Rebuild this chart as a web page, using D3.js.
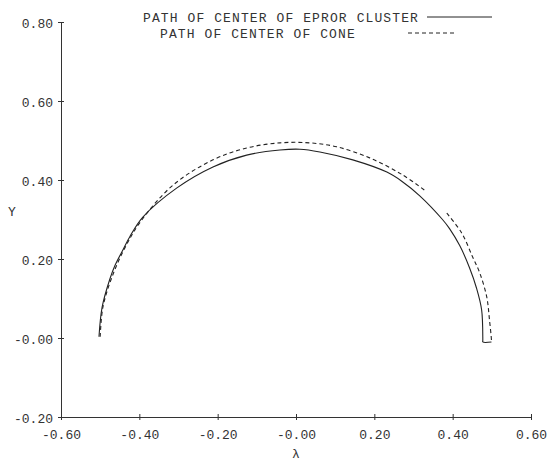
<!DOCTYPE html>
<html>
<head>
<meta charset="utf-8">
<script src="https://cdn.jsdelivr.net/npm/d3@7"></script>
<style>
  body { margin: 0; background: #fff; }
  text { font-family: "Liberation Mono", "DejaVu Sans Mono", monospace; fill: #333; }
</style>
</head>
<body>
<div id="container"></div>
<script>
// chart size
const width = 552;
const height = 462;

// tick values and labels as printed on the plot
const xTicks = [-0.6, -0.4, -0.2, 0, 0.2, 0.4, 0.6];
const xTickLabels = ["-0.60", "-0.40", "-0.20", "-0.00", "0.20", "0.40", "0.60"];
const yTicks = [-0.2, 0, 0.2, 0.4, 0.6, 0.8];
const yTickLabels = ["-0.20", "-0.00", "0.20", "0.40", "0.60", "0.80"];

// path of center of error cluster (solid)
const clusterX = [-0.503, -0.495, -0.475, -0.462, -0.442, -0.424, -0.391, -0.304, -0.212, -0.126, -0.041, 0.010,
    0.061, 0.145, 0.232, 0.270, 0.316, 0.374, 0.392, 0.418, 0.443, 0.461, 0.474, 0.477, 0.477, 0.499];
const clusterY = [0.003, 0.078, 0.150, 0.184, 0.223, 0.257, 0.306, 0.380, 0.433, 0.463, 0.476, 0.478,
    0.471, 0.451, 0.420, 0.397, 0.360, 0.300, 0.277, 0.234, 0.178, 0.126, 0.071, -0.005, -0.010, -0.010];

// path of center of cone (dashed), null marks the pen lift
const coneX = [-0.500, -0.493, -0.470, -0.437, -0.396, -0.314, -0.212, -0.126, -0.041, 0.035,
    0.104, 0.188, 0.272, 0.334, null, 0.385, 0.423, 0.451, 0.469, 0.487, 0.494, 0.499, 0.499];
const coneY = [0.003, 0.078, 0.154, 0.228, 0.296, 0.387, 0.451, 0.481, 0.494, 0.494,
    0.484, 0.456, 0.413, 0.370, null, 0.316, 0.266, 0.205, 0.165, 0.104, 0.046, -0.005, -0.010];

const legendLabels = ["PATH OF CENTER OF EPROR CLUSTER", "PATH OF CENTER OF CONE"];

const svg = d3.select("#container")
    .append("svg")
    .attr("width", width)
    .attr("height", height);

// scales
const x = d3.scaleLinear().domain([-0.6, 0.6]).range([61, 531]);
const y = d3.scaleLinear().domain([-0.2, 0.8]).range([417, 22]);

// x axis
const xAxis = svg.append("g")
    .attr("transform", `translate(0, ${y(-0.2)})`)
    .call(d3.axisBottom(x)
        .tickValues(xTicks)
        .tickSizeInner(3)
        .tickSizeOuter(0)
        .tickPadding(10)
        .tickFormat((d, i) => xTickLabels[i]));
xAxis.select(".domain").attr("stroke", "#333");
xAxis.selectAll(".tick line").attr("y1", -3).attr("stroke", "#333");
xAxis.selectAll(".tick text")
    .attr("fill", "#333")
    .style("font-size", "13px");

// y axis
const yAxis = svg.append("g")
    .attr("transform", `translate(${x(-0.6)}, 0)`)
    .call(d3.axisLeft(y)
        .tickValues(yTicks)
        .tickSizeInner(3)
        .tickSizeOuter(0)
        .tickPadding(5)
        .tickFormat((d, i) => yTickLabels[i]));
yAxis.select(".domain").attr("stroke", "#333");
yAxis.selectAll(".tick line").attr("x1", 3).attr("stroke", "#333");
yAxis.selectAll(".tick text")
    .attr("fill", "#333")
    .attr("dy", "0.45em")
    .style("font-size", "13px");

// axis titles
svg.append("text")
    .attr("x", x(0))
    .attr("y", 458)
    .attr("text-anchor", "middle")
    .style("font-size", "13px")
    .text("λ");

svg.append("text")
    .attr("x", 12)
    .attr("y", 216)
    .attr("text-anchor", "middle")
    .style("font-size", "13px")
    .text("Y");

// curves
const lineGen = d3.line()
    .defined(d => d[0] !== null)
    .x(d => x(d[0]))
    .y(d => y(d[1]))
    .curve(d3.curveCatmullRom);

svg.append("path")
    .datum(clusterX.map((v, i) => [v, clusterY[i]]))
    .attr("fill", "none")
    .attr("stroke", "#222")
    .attr("stroke-width", 1.1)
    .attr("d", lineGen);

svg.append("path")
    .datum(coneX.map((v, i) => [v, coneY[i]]))
    .attr("fill", "none")
    .attr("stroke", "#222")
    .attr("stroke-width", 1.1)
    .attr("stroke-dasharray", "4,3")
    .attr("d", lineGen);

// legend
const legend = svg.append("g");
legend.append("text")
    .attr("x", 143)
    .attr("y", 22)
    .style("font-size", "13px")
    .style("letter-spacing", "1.1px")
    .text(legendLabels[0]);
legend.append("text")
    .attr("x", 160)
    .attr("y", 38)
    .style("font-size", "13px")
    .style("letter-spacing", "1.1px")
    .text(legendLabels[1]);
legend.append("line")
    .attr("x1", 427).attr("x2", 492)
    .attr("y1", 17).attr("y2", 17)
    .attr("stroke", "#222");
legend.append("line")
    .attr("x1", 408).attr("x2", 455)
    .attr("y1", 33).attr("y2", 33)
    .attr("stroke", "#222")
    .attr("stroke-dasharray", "4,3");
</script>
</body>
</html>
